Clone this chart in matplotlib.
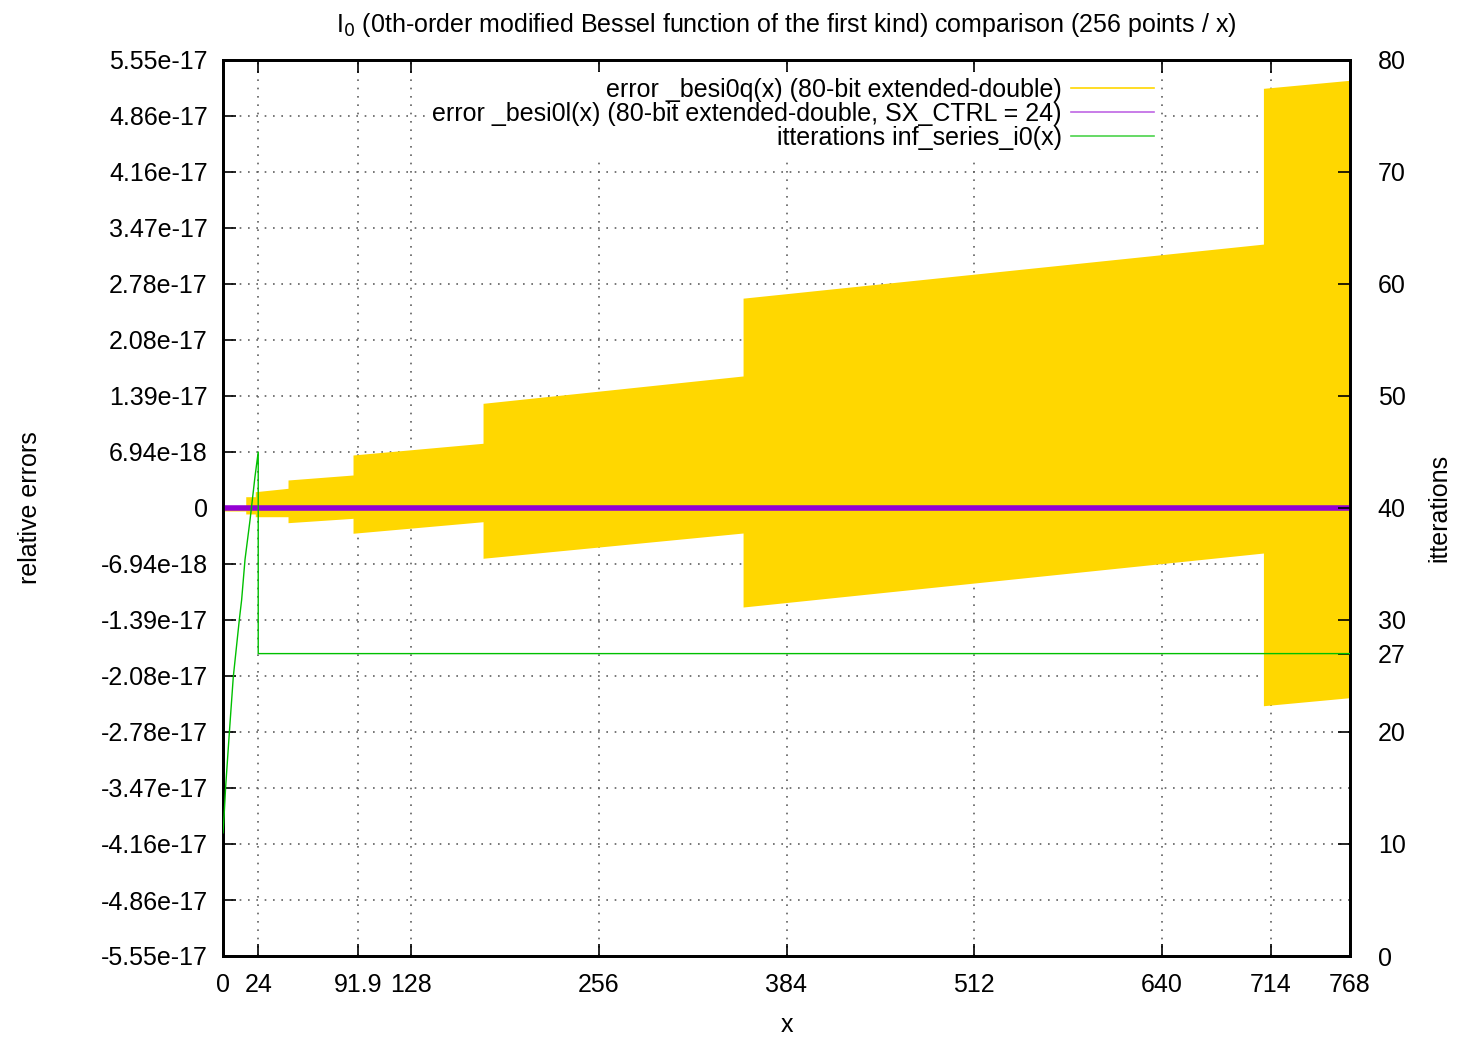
import matplotlib
matplotlib.use("Agg")
import matplotlib.pyplot as plt
from matplotlib.lines import Line2D

plt.rcParams['font.family'] = ['Liberation Sans', 'DejaVu Sans']

# x ticks
x_ticks = [0, 24, 91.9, 128, 256, 384, 512, 640, 714, 768]
x_tick_labels = ["0", "24", "91.9", "128", "256", "384", "512", "640", "714", "768"]

# left axis: relative errors, steps of 2^-57
ulp = 6.9389e-18
y_tick_labels = ["-5.55e-17", "-4.86e-17", "-4.16e-17", "-3.47e-17", "-2.78e-17",
                 "-2.08e-17", "-1.39e-17", "-6.94e-18", "0", "6.94e-18", "1.39e-17",
                 "2.08e-17", "2.78e-17", "3.47e-17", "4.16e-17", "4.86e-17", "5.55e-17"]
y_ticks = [k * ulp for k in range(-8, 9)]

# right axis: iterations
y2_ticks = [0, 10, 20, 27, 30, 40, 50, 60, 70, 80]

# _besi0q(x) error envelope
besi0q_x = [0, 15.5, 15.5, 22, 22, 44.3, 44.3, 88.6, 88.6, 177.2, 177.2,
            354.4, 354.4, 709, 709, 768]
besi0q_hi = [2.5e-19, 2.5e-19, 1.40e-18, 1.40e-18, 2.02e-18, 2.44e-18, 3.47e-18,
             4.09e-18, 6.57e-18, 8.02e-18, 1.297e-17, 1.636e-17, 2.60e-17,
             3.27e-17, 5.20e-17, 5.30e-17]
besi0q_lo = [-3.7e-19, -3.7e-19, -7.4e-19, -7.4e-19, -1.08e-18, -1.08e-18,
             -1.82e-18, -1.28e-18, -3.13e-18, -1.70e-18, -6.23e-18, -3.10e-18,
             -1.227e-17, -5.58e-18, -2.45e-17, -2.35e-17]

# _besi0l(x) error (stays at zero)
besi0l_x = [0, 768]
besi0l_y = [0, 0]

# iterations of inf_series_i0(x)
iter_x = [0, 0.7, 1.8, 4.3, 7.0, 11.1, 12.7, 15, 18.4, 21.8, 24, 24, 768]
iter_y = [11, 12.4, 15.1, 19.9, 24.9, 30, 31.8, 35.4, 38.9, 42.8, 45, 27, 27]

gold = '#ffd700'
violet = '#9400d3'
green = '#00c000'

fig = plt.figure(figsize=(14.6, 10.4), dpi=100)
ax = fig.add_axes([223/1460, 1-956/1040, (1350-223)/1460, (956-60)/1040])
ax2 = ax.twinx()

ax.fill_between(besi0q_x, besi0q_lo, besi0q_hi, color=gold, linewidth=0, zorder=2)
ax.plot(besi0l_x, besi0l_y, color=violet, linewidth=4.0, zorder=3)
ax2.plot(iter_x, iter_y, color=green, linewidth=1.0, zorder=4)

ax.set_xlim(0, 768)
ax.set_ylim(-8*ulp, 8*ulp)
ax2.set_ylim(0, 80)

fs = 18
ax.set_xticks(x_ticks)
ax.set_xticklabels(x_tick_labels, fontsize=fs)
ax.set_yticks(y_ticks)
ax.set_yticklabels(y_tick_labels, fontsize=fs)
ax2.set_yticks(y2_ticks)
ax2.set_yticklabels([str(v) for v in y2_ticks], fontsize=fs)

ax.tick_params(axis='x', direction='in', length=9, width=1.2, top=True, pad=12)
ax.tick_params(axis='y', direction='in', length=9, width=1.2, right=False, pad=11)
ax2.tick_params(axis='y', direction='in', length=9, width=1.2, pad=20)

ax.grid(True, color='#606060', linestyle=(0, (1, 4)), linewidth=1.2)
ax.set_axisbelow(True)
for a in (ax, ax2):
    for s in a.spines.values():
        s.set_linewidth(2)
        s.set_color('black')

ax.set_xlabel('x', fontsize=fs, labelpad=12)
ax.set_ylabel('relative errors', fontsize=fs)
ax.yaxis.set_label_coords(-0.161, 0.5)
ax2.set_ylabel('itterations', fontsize=fs)
ax2.yaxis.set_label_coords(1.069, 0.5)
ax.set_title(r'I$_0$ (0th-order modified Bessel function of the first kind) comparison (256 points / x)',
             fontsize=fs, pad=20)

handles = [Line2D([], [], color=gold, linewidth=1.2),
           Line2D([], [], color=violet, linewidth=1.2, alpha=0.6),
           Line2D([], [], color=green, linewidth=1.2, alpha=0.7)]
labels = ['error _besi0q(x) (80-bit extended-double)',
          'error _besi0l(x) (80-bit extended-double, SX_CTRL = 24)',
          'itterations inf_series_i0(x)']
leg = ax2.legend(handles, labels, loc='upper right', bbox_to_anchor=(0.832, 0.987),
                 markerfirst=False, fontsize=fs, frameon=True, fancybox=False,
                 framealpha=1, edgecolor='none', handlelength=3.35, handletextpad=0.35,
                 labelspacing=0.0, borderpad=0.25, borderaxespad=0)
leg.set_zorder(10)

fig.savefig('out.png', dpi=100)
